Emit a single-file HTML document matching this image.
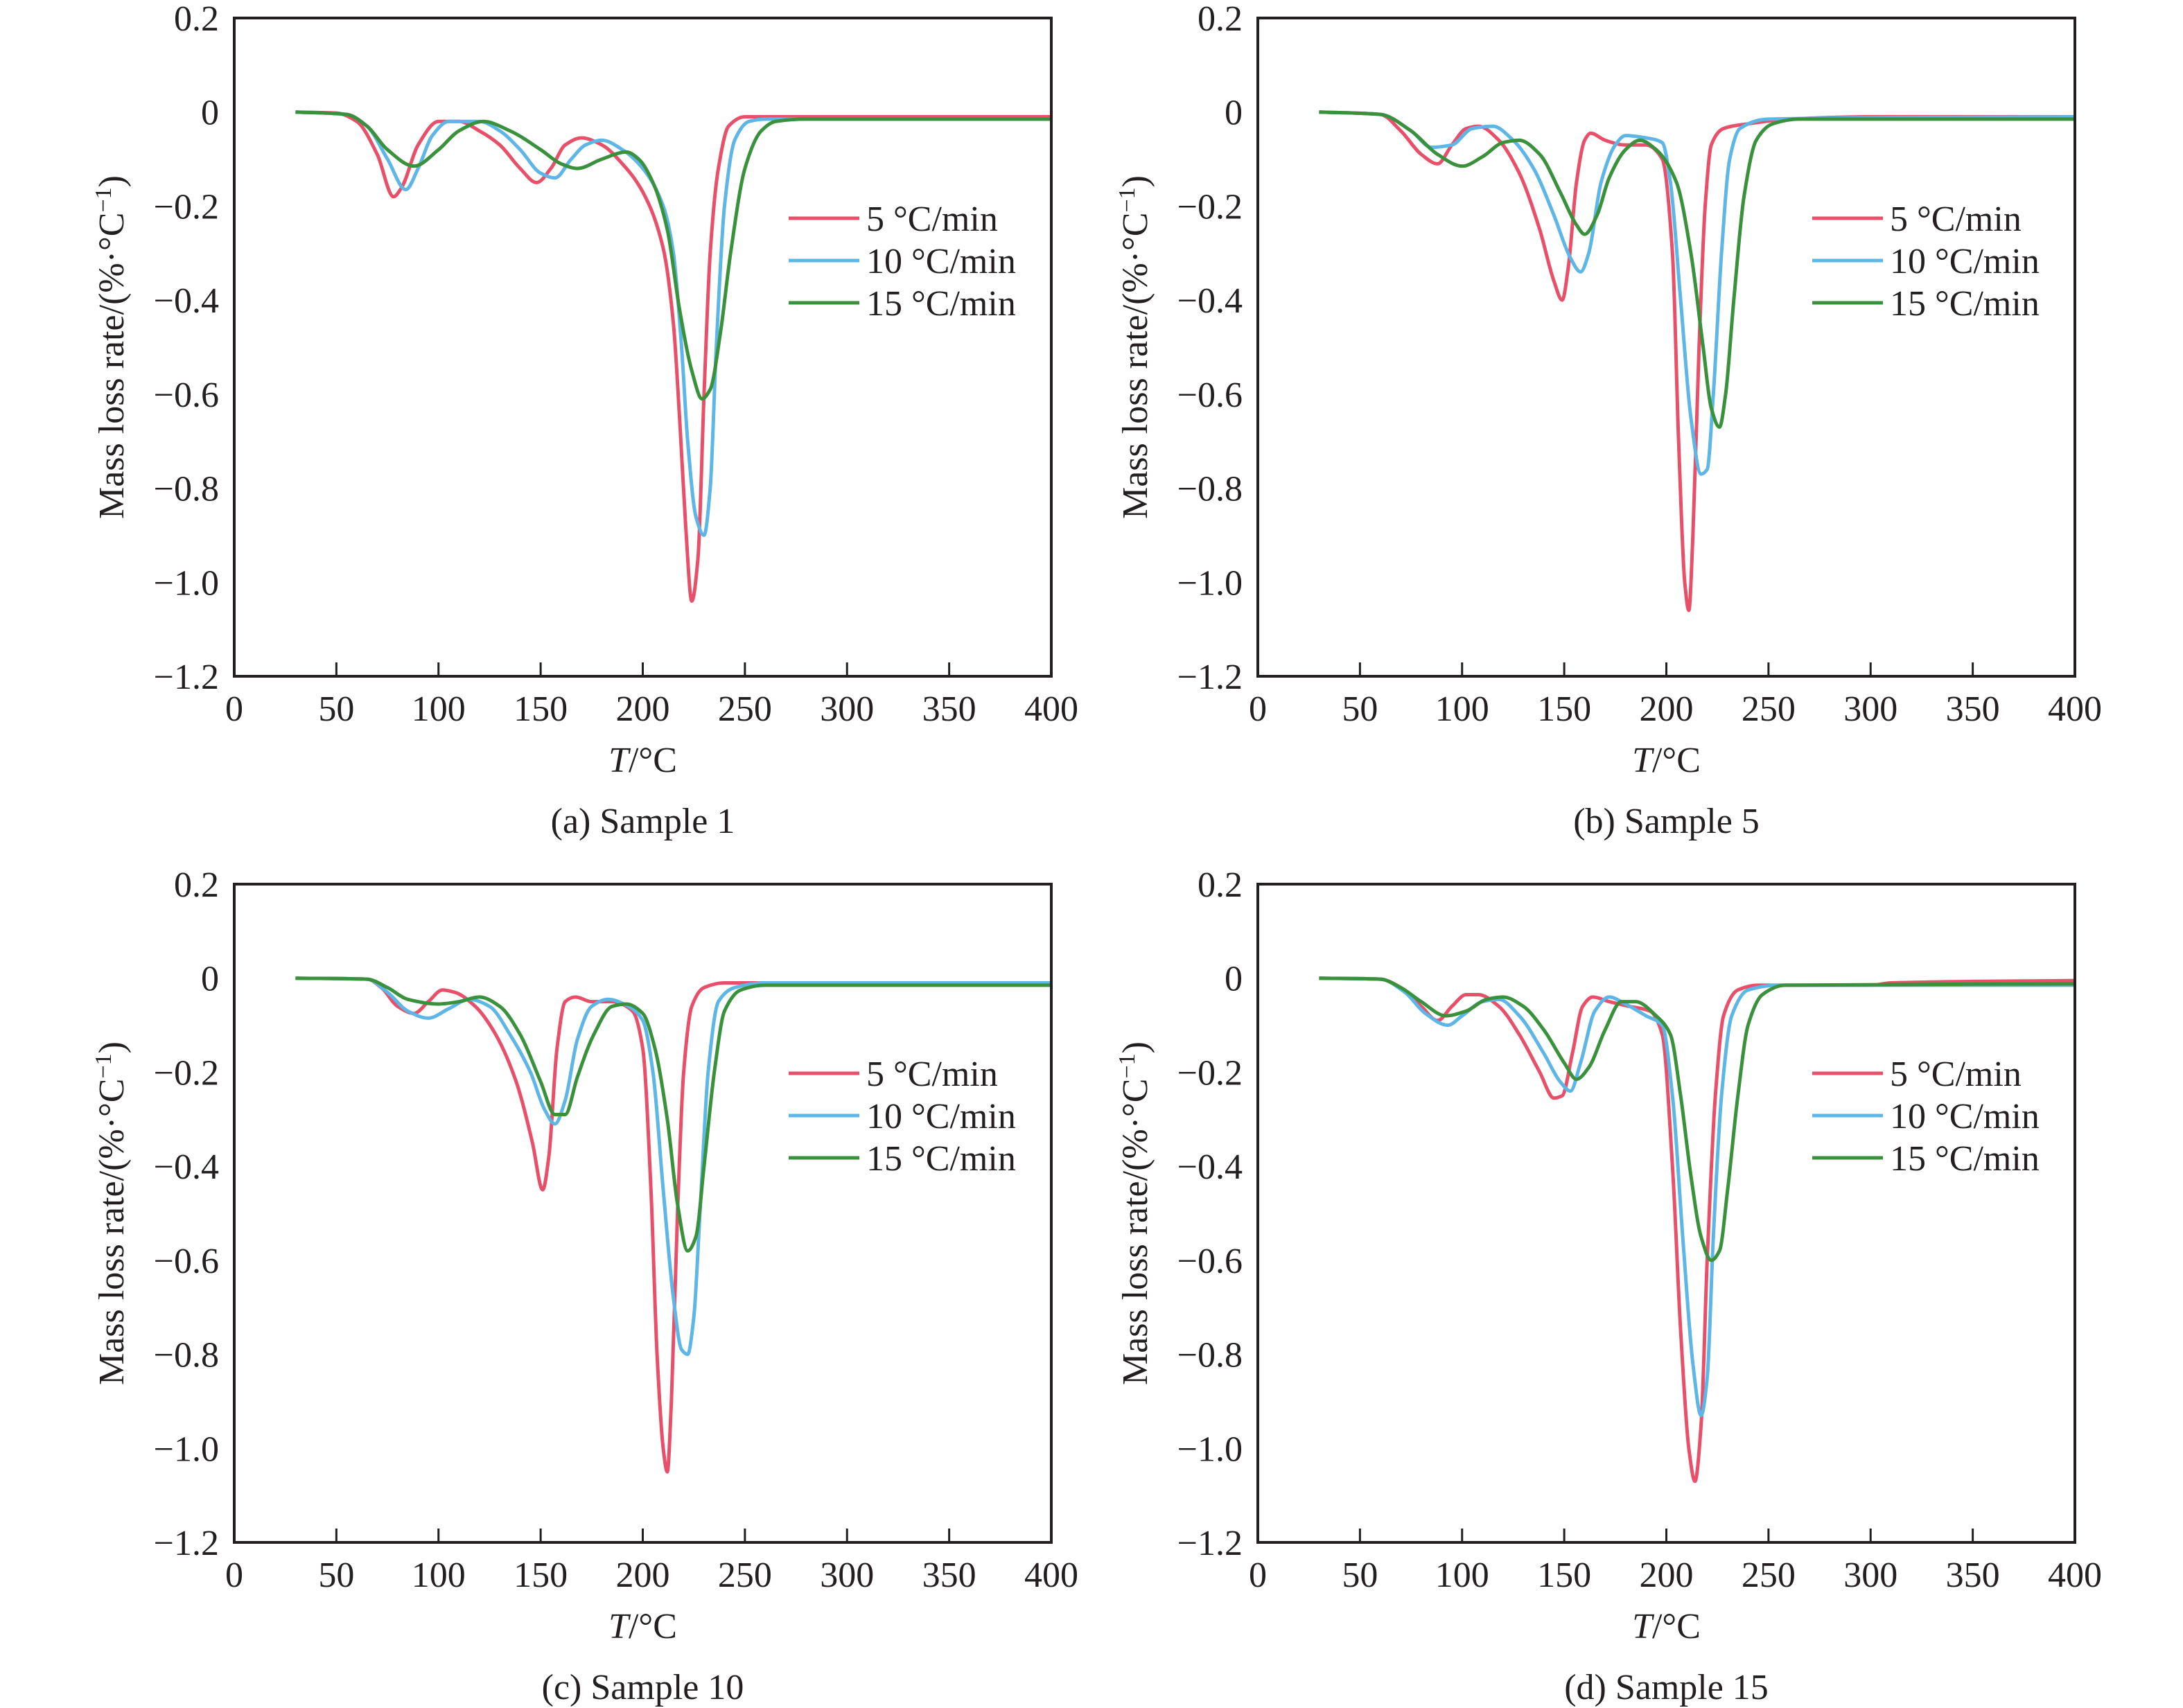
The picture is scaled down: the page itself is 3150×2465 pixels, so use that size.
<!DOCTYPE html>
<html><head><meta charset="utf-8"><style>
html,body{margin:0;padding:0;background:#fff;}
svg{display:block;}
text{font-family:"Liberation Serif","DejaVu Serif","Times New Roman",serif;}
</style></head><body>
<svg id="fig" width="3150" height="2465" viewBox="0 0 3150 2465" xmlns="http://www.w3.org/2000/svg" font-family="Liberation Serif, DejaVu Serif, serif"></svg>
<script>
const xTicks=[0,50,100,150,200,250,300,350,400];
const yTicks=[0.2,0,-0.2,-0.4,-0.6,-0.8,-1.0,-1.2];
const yTickLabels=["0.2","0","\u22120.2","\u22120.4","\u22120.6","\u22120.8","\u22121.0","\u22121.2"];
const seriesNames=["5 \u00B0C/min","10 \u00B0C/min","15 \u00B0C/min"];
const captions=["(a) Sample 1","(b) Sample 5","(c) Sample 10","(d) Sample 15"];

const aRedT=[30,50,60,70,78,82,90,100,110,120,130,140,148,155,162,170,180,190,200,210,215,218,221,224,227,230,233,237,242,250,400];
const aRedV=[0,-0.002,-0.02,-0.09,-0.18,-0.16,-0.07,-0.02,-0.02,-0.04,-0.07,-0.12,-0.15,-0.12,-0.07,-0.055,-0.07,-0.11,-0.17,-0.29,-0.45,-0.65,-0.88,-1.04,-0.95,-0.6,-0.3,-0.12,-0.03,-0.01,-0.01];
const aBlueT=[30,55,65,75,84,90,97,105,120,130,140,150,157,165,172,180,190,200,210,215,219,222,226,230,233,236,240,245,252,260,400];
const aBlueV=[0,-0.005,-0.03,-0.1,-0.165,-0.12,-0.05,-0.02,-0.02,-0.04,-0.08,-0.13,-0.14,-0.1,-0.07,-0.06,-0.08,-0.12,-0.2,-0.3,-0.5,-0.7,-0.86,-0.9,-0.8,-0.5,-0.2,-0.06,-0.02,-0.015,-0.015];
const aGreenT=[30,55,65,75,88,100,110,122,135,150,160,168,180,192,198,205,212,218,224,229,233,238,243,250,258,265,280,400];
const aGreenV=[0,-0.005,-0.03,-0.08,-0.115,-0.08,-0.04,-0.02,-0.04,-0.08,-0.11,-0.12,-0.1,-0.085,-0.1,-0.15,-0.25,-0.42,-0.55,-0.61,-0.59,-0.47,-0.3,-0.12,-0.04,-0.02,-0.015,-0.015];

const bRedT=[30,60,70,80,88,95,102,108,118,128,138,145,149,152,156,160,163,170,180,190,198,203,206,209,211,213,216,219,222,228,240,260,300,400];
const bRedV=[0,-0.005,-0.04,-0.09,-0.11,-0.07,-0.035,-0.03,-0.06,-0.13,-0.25,-0.36,-0.4,-0.33,-0.15,-0.06,-0.045,-0.06,-0.07,-0.07,-0.1,-0.3,-0.7,-1.0,-1.06,-0.9,-0.5,-0.2,-0.07,-0.035,-0.025,-0.015,-0.01,-0.01];
const bBlueT=[30,60,75,85,95,105,115,125,135,145,153,158,162,168,175,180,190,198,202,207,212,217,220,223,227,231,236,250,400];
const bBlueV=[0,-0.005,-0.04,-0.075,-0.07,-0.035,-0.03,-0.06,-0.12,-0.22,-0.31,-0.34,-0.3,-0.15,-0.07,-0.05,-0.055,-0.065,-0.15,-0.4,-0.65,-0.77,-0.76,-0.6,-0.3,-0.1,-0.035,-0.015,-0.01];
const bGreenT=[30,60,75,88,100,110,120,128,138,148,156,160,166,172,180,187,195,205,212,218,222,226,229,233,238,244,252,265,400];
const bGreenV=[0,-0.005,-0.04,-0.09,-0.115,-0.095,-0.065,-0.06,-0.09,-0.17,-0.24,-0.26,-0.22,-0.14,-0.08,-0.06,-0.08,-0.15,-0.3,-0.5,-0.63,-0.67,-0.6,-0.4,-0.18,-0.06,-0.025,-0.015,-0.015];

const cRedT=[30,65,72,80,88,95,102,108,118,128,138,146,151,154,158,162,167,175,185,195,200,204,207,210,212,214,217,220,224,230,240,400];
const cRedV=[0,-0.002,-0.02,-0.06,-0.075,-0.05,-0.025,-0.03,-0.06,-0.12,-0.22,-0.35,-0.45,-0.38,-0.15,-0.05,-0.04,-0.05,-0.05,-0.07,-0.15,-0.45,-0.8,-1.0,-1.05,-0.9,-0.5,-0.2,-0.06,-0.02,-0.01,-0.01];
const cBlueT=[30,65,75,85,95,105,115,125,135,145,152,157,162,168,175,183,193,200,205,210,215,219,222,225,228,232,237,245,260,400];
const cBlueV=[0,-0.002,-0.03,-0.07,-0.085,-0.065,-0.045,-0.06,-0.12,-0.2,-0.28,-0.31,-0.26,-0.13,-0.06,-0.045,-0.06,-0.09,-0.2,-0.45,-0.68,-0.79,-0.8,-0.72,-0.5,-0.2,-0.05,-0.02,-0.01,-0.01];
const cGreenT=[30,65,75,85,100,110,120,130,140,150,157,162,168,176,185,192,200,206,212,217,222,226,230,235,240,248,260,400];
const cGreenV=[0,-0.002,-0.02,-0.045,-0.055,-0.05,-0.04,-0.06,-0.12,-0.22,-0.29,-0.29,-0.21,-0.12,-0.06,-0.055,-0.075,-0.15,-0.3,-0.48,-0.58,-0.55,-0.4,-0.2,-0.07,-0.025,-0.015,-0.015];

const dRedT=[30,60,70,80,88,95,102,108,118,128,138,145,149,154,159,164,172,182,192,198,203,207,211,214,217,220,224,228,235,245,300,310,400];
const dRedV=[0,-0.002,-0.02,-0.06,-0.09,-0.06,-0.035,-0.035,-0.06,-0.12,-0.2,-0.255,-0.25,-0.16,-0.06,-0.04,-0.05,-0.06,-0.07,-0.12,-0.4,-0.75,-1.0,-1.07,-0.95,-0.6,-0.25,-0.08,-0.025,-0.015,-0.015,-0.01,-0.005];
const dBlueT=[30,60,72,82,93,100,110,118,128,140,148,153,158,165,172,180,190,198,203,208,213,217,220,223,227,232,240,255,400];
const dBlueV=[0,-0.002,-0.03,-0.075,-0.1,-0.08,-0.05,-0.045,-0.08,-0.16,-0.22,-0.24,-0.18,-0.07,-0.04,-0.055,-0.08,-0.1,-0.25,-0.55,-0.82,-0.93,-0.85,-0.55,-0.25,-0.08,-0.025,-0.015,-0.015];
const dGreenT=[30,60,70,80,92,102,112,120,130,140,150,156,162,170,178,185,195,202,207,212,217,222,226,230,235,240,247,258,400];
const dGreenV=[0,-0.002,-0.02,-0.05,-0.08,-0.07,-0.045,-0.04,-0.06,-0.11,-0.18,-0.215,-0.19,-0.11,-0.05,-0.05,-0.08,-0.12,-0.25,-0.42,-0.55,-0.6,-0.58,-0.45,-0.25,-0.1,-0.035,-0.015,-0.012];

const panels=[
 {L:338,T:26,leg:315,red:[aRedT,aRedV],blue:[aBlueT,aBlueV],green:[aGreenT,aGreenV]},
 {L:1815,T:26,leg:315,red:[bRedT,bRedV],blue:[bBlueT,bBlueV],green:[bGreenT,bGreenV]},
 {L:338,T:1276,leg:1549,red:[cRedT,cRedV],blue:[cBlueT,cBlueV],green:[cGreenT,cGreenV]},
 {L:1815,T:1276,leg:1549,red:[dRedT,dRedV],blue:[dBlueT,dBlueV],green:[dGreenT,dGreenV]}
];
const W=1179,H=950;
const colors={red:"#e8506a",blue:"#5db6e6",green:"#3a913b"};
const FONT='"Liberation Serif","DejaVu Serif",serif';
const NS="http://www.w3.org/2000/svg";
const svg=document.getElementById('fig');
function mk(tag,attrs,parent){const e=document.createElementNS(NS,tag);for(const k in attrs)e.setAttribute(k,attrs[k]);if(tag==='text')e.style.fontFamily=FONT;(parent||svg).appendChild(e);return e;}
// monotone cubic (Fritsch-Carlson) path
function pathFrom(pts){
 const n=pts.length,dx=[],m=[],t=new Array(n);
 for(let i=0;i<n-1;i++){dx.push(pts[i+1][0]-pts[i][0]);m.push((pts[i+1][1]-pts[i][1])/dx[i]);}
 t[0]=m[0];t[n-1]=m[n-2];
 for(let i=1;i<n-1;i++){
  if(m[i-1]*m[i]<=0)t[i]=0;
  else{const w1=2*dx[i]+dx[i-1],w2=dx[i]+2*dx[i-1];t[i]=(w1+w2)/(w1/m[i-1]+w2/m[i]);}
 }
 let d="M"+pts[0][0].toFixed(1)+","+pts[0][1].toFixed(1);
 for(let i=0;i<n-1;i++){
  const h=dx[i]/3;
  d+=" C"+(pts[i][0]+h).toFixed(1)+","+(pts[i][1]+t[i]*h).toFixed(1)+" "+(pts[i+1][0]-h).toFixed(1)+","+(pts[i+1][1]-t[i+1]*h).toFixed(1)+" "+pts[i+1][0].toFixed(1)+","+pts[i+1][1].toFixed(1);
 }
 return d;
}
panels.forEach((p,pi)=>{
 const g=mk('g',{});
 
 
 const xs=v=>p.L+v/400*W;
 const ys=v=>p.T+(0.2-v)/1.4*H;
 ["red","blue","green"].forEach((k,si)=>{
  const [Ts,Vs]=p[k];
  const pts=Ts.map((t,i)=>[xs(t),ys(Vs[i])]);
  const path=mk('path',{d:pathFrom(pts),fill:'none',stroke:colors[k],'stroke-width':5,'stroke-linejoin':'round'},g);
  
  
 });
 const fr=mk('rect',{x:p.L,y:p.T,width:W,height:H,fill:'none',stroke:'#231f20','stroke-width':4},g);
 
 
 xTicks.forEach(v=>{
  const x=xs(v);
  if(v>0&&v<400){const tk=mk('line',{x1:x,x2:x,y1:p.T+H,y2:p.T+H-20,stroke:'#231f20','stroke-width':3},g);
  
  }
  const t=mk('text',{x:x,y:p.T+H+64,'text-anchor':'middle','font-size':52,fill:'#231f20'},g);
  t.textContent=v;
  
  
 });
 yTicks.forEach((v,i)=>{
  const y=ys(v);
  const t=mk('text',{x:p.L-22,y:y+18,'text-anchor':'end','font-size':52,fill:'#231f20'},g);
  t.textContent=yTickLabels[i];
  
  
 });
 const xt=mk('text',{x:p.L+W/2,y:p.T+H+138,'text-anchor':'middle','font-size':52,fill:'#231f20'},g);
 xt.innerHTML='<tspan font-style="italic">T</tspan>/\u00B0C';
 
 
 const yt=mk('text',{x:0,y:0,'text-anchor':'middle','font-size':52,fill:'#231f20',transform:`translate(${p.L-160},${p.T+H/2}) rotate(-90)`},g);
 yt.innerHTML='Mass loss rate/(%\u00B7\u00B0C<tspan dy="-18" font-size="34">\u22121</tspan><tspan dy="18">)</tspan>';
 
 
 const cap=mk('text',{x:p.L+W/2,y:p.T+H+226,'text-anchor':'middle','font-size':52,fill:'#231f20'},g);
 cap.textContent=captions[pi];
 
 
 ["red","blue","green"].forEach((k,si)=>{
  const ly=p.leg+si*61;
  const lg=mk('g',{},g);
  
  
  mk('line',{x1:p.L+800,x2:p.L+902,y1:ly,y2:ly,stroke:colors[k],'stroke-width':5},lg);
  const lt=mk('text',{x:p.L+912,y:ly+18,'font-size':52,fill:'#231f20'},lg);
  lt.textContent=seriesNames[si];
 });
});
</script>
</body></html>
